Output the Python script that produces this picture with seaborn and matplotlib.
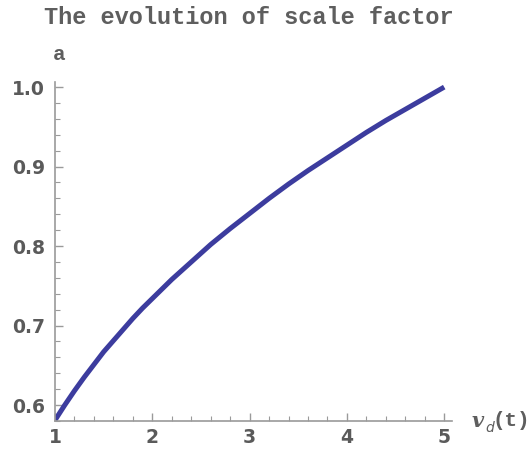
import matplotlib
matplotlib.use("Agg")
import matplotlib.pyplot as plt
from matplotlib.ticker import MultipleLocator
import pandas as pd
import seaborn as sns

# values
v_d = [1.0, 1.1, 1.2, 1.3, 1.4, 1.5, 1.6, 1.7, 1.8, 1.9, 2.0,
       2.2, 2.4, 2.6, 2.8, 3.0, 3.2, 3.4, 3.6, 3.8, 4.0,
       4.2, 4.4, 4.6, 4.8, 5.0]
scale_a = [0.581, 0.600, 0.618, 0.635, 0.651, 0.667, 0.681, 0.695, 0.709, 0.722, 0.734,
           0.758, 0.780, 0.802, 0.822, 0.841, 0.860, 0.878, 0.895, 0.911, 0.927,
           0.943, 0.958, 0.972, 0.986, 1.0]
x_ticks = [1, 2, 3, 4, 5]
y_ticks = [0.6, 0.7, 0.8, 0.9, 1.0]

df = pd.DataFrame({"v_d": v_d, "a": scale_a})

sns.set_style("ticks")
plt.rcParams["font.family"] = ["DejaVu Sans"]

AXIS_GREY = "#9a9a9a"
TEXT_GREY = "#5e5e5e"
MONO = ["Liberation Mono", "DejaVu Sans Mono"]

fig = plt.figure(figsize=(5.32, 4.54), dpi=100)
ax = fig.add_axes([55 / 532, 33 / 454, 397 / 532, 339 / 454])

sns.lineplot(data=df, x="v_d", y="a", ax=ax, color="#3c3c9e", linewidth=3.6,
             solid_capstyle="butt", solid_joinstyle="round")

ax.set_xlim(1, 5.08)
ax.set_ylim(0.58, 1.0064)
ax.set_xticks(x_ticks)
ax.set_yticks(y_ticks)
ax.set_xticklabels([str(t) for t in x_ticks])
ax.set_yticklabels([f"{t:.1f}" for t in y_ticks])
ax.xaxis.set_minor_locator(MultipleLocator(0.2))
ax.yaxis.set_minor_locator(MultipleLocator(0.02))

for side in ("top", "right"):
    ax.spines[side].set_visible(False)
for side in ("left", "bottom"):
    ax.spines[side].set_color(AXIS_GREY)
    ax.spines[side].set_linewidth(1.2)

ax.tick_params(which="major", direction="in", length=6, width=1,
               color=AXIS_GREY, labelcolor="#5a5a5a", labelsize=13.5)
ax.tick_params(which="minor", direction="in", length=3.5, width=0.8,
               color=AXIS_GREY)
for lab in ax.get_xticklabels() + ax.get_yticklabels():
    lab.set_fontweight("bold")
ax.tick_params(axis="x", pad=5)
ax.tick_params(axis="y", pad=7)

ax.set_xlabel("")
ax.set_ylabel("")

fig.text(249 / 532, 1 - 18 / 454, "The evolution of scale factor",
         ha="center", va="center", family=MONO, fontweight="bold",
         fontsize=17, color=TEXT_GREY)
fig.text(53 / 532, 1 - 55 / 454, "a", ha="left", va="center", family=MONO,
         fontweight="bold", fontsize=15, color=TEXT_GREY)
# x-axis label v_d(t)
fig.text(472 / 532, 1 - 421 / 454, "v", ha="left", va="center",
         family="DejaVu Serif", style="italic", fontweight="bold",
         fontsize=15, color=TEXT_GREY)
fig.text(485 / 532, 1 - 428 / 454, "d", ha="left", va="center",
         style="italic", fontsize=10, color=TEXT_GREY)
fig.text(493 / 532, 1 - 421 / 454, "(t)", ha="left", va="center",
         family=MONO, fontweight="bold", fontsize=15, color=TEXT_GREY)

fig.savefig("out.png", dpi=100)
